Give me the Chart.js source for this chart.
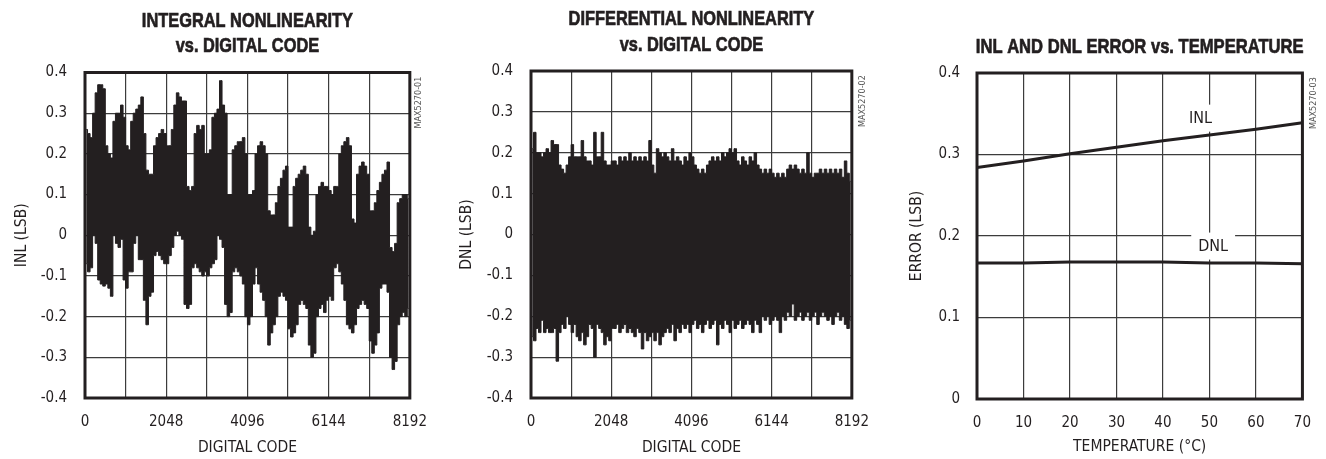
<!DOCTYPE html>
<html>
<head>
<meta charset="utf-8">
<script src="https://cdn.jsdelivr.net/npm/chart.js@4.4.1/dist/chart.umd.min.js"></script>
<style>
  body { margin: 0; background: #fff; width: 1326px; height: 459px; overflow: hidden; position: relative; }
  canvas { position: absolute; top: 0; }
</style>
</head>
<body>
<canvas id="inlChart" width="442" height="459" style="left:0px"></canvas>
<canvas id="dnlChart" width="442" height="459" style="left:442px"></canvas>
<canvas id="tempChart" width="442" height="459" style="left:884px"></canvas>
<script>
// codes are grouped in bins of 64, each bin keeps the top and bottom of the trace
const codeStep = 64;
const codeGrid = [0, 1024, 2048, 3072, 4096, 5120, 6144, 7168, 8192];
const codeTicks = [0, 2048, 4096, 6144, 8192];
const lsbTicks = [-0.4, -0.3, -0.2, -0.1, 0, 0.1, 0.2, 0.3, 0.4];

const inlHigh = [
  0.26, 0.25, 0.24, 0.30, 0.35, 0.37, 0.37, 0.36, 0.22, 0.20, 0.19, 0.28, 0.30, 0.30, 0.32, 0.29,
  0.22, 0.21, 0.28, 0.30, 0.31, 0.32, 0.34, 0.25, 0.16, 0.15, 0.15, 0.22, 0.24, 0.25, 0.26, 0.25,
  0.22, 0.22, 0.26, 0.32, 0.35, 0.34, 0.33, 0.33, 0.12, 0.11, 0.12, 0.25, 0.27, 0.26, 0.27, 0.20,
  0.20, 0.21, 0.29, 0.30, 0.31, 0.38, 0.32, 0.30, 0.10, 0.10, 0.21, 0.22, 0.23, 0.23, 0.24, 0.20,
  0.10, 0.10, 0.11, 0.20, 0.22, 0.23, 0.22, 0.20, 0.06, 0.05, 0.05, 0.08, 0.12, 0.14, 0.16, 0.17,
  0.02, 0.02, 0.12, 0.14, 0.15, 0.16, 0.17, 0.15, 0.02, 0.00, 0.01, 0.10, 0.12, 0.13, 0.12, 0.12,
  0.11, 0.10, 0.12, 0.12, 0.20, 0.22, 0.23, 0.24, 0.22, 0.04, 0.03, 0.15, 0.17, 0.18, 0.17, 0.15,
  0.06, 0.06, 0.08, 0.11, 0.13, 0.15, 0.16, 0.18, -0.03, -0.04, -0.02, 0.08, 0.09, 0.10, 0.10, 0.09
];
const inlLow = [
  -0.07, -0.09, -0.08, 0.00, -0.02, -0.11, -0.12, -0.125, -0.12, -0.13, -0.15, 0.00, -0.02, -0.03, -0.01, -0.11,
  -0.13, -0.09, -0.09, -0.02, 0.00, -0.06, -0.06, -0.16, -0.22, -0.15, -0.14, -0.05, -0.04, -0.05, -0.06, -0.07,
  -0.07, -0.05, -0.03, 0.00, 0.01, 0.00, -0.01, -0.17, -0.18, -0.17, -0.08, -0.07, -0.08, -0.09, -0.10, -0.09,
  -0.10, -0.08, -0.07, -0.06, 0.00, -0.01, -0.03, -0.17, -0.20, -0.19, -0.09, -0.08, -0.09, -0.10, -0.12, -0.20,
  -0.22, -0.20, -0.12, -0.08, -0.12, -0.14, -0.16, -0.20, -0.27, -0.24, -0.22, -0.20, -0.15, -0.14, -0.15, -0.16,
  -0.23, -0.25, -0.24, -0.22, -0.17, -0.16, -0.17, -0.18, -0.27, -0.30, -0.29, -0.20, -0.18, -0.17, -0.19, -0.16,
  -0.15, -0.16, -0.08, -0.07, -0.09, -0.12, -0.16, -0.22, -0.23, -0.24, -0.22, -0.18, -0.17, -0.16, -0.17, -0.18,
  -0.26, -0.29, -0.27, -0.24, -0.13, -0.12, -0.12, -0.14, -0.30, -0.33, -0.31, -0.22, -0.20, -0.19, -0.20, -0.18
];

const dnlHigh = [
  0.21, 0.25, 0.20, 0.20, 0.19, 0.20, 0.21, 0.20, 0.23, 0.22, 0.22, 0.17, 0.16, 0.15, 0.17, 0.19,
  0.22, 0.19, 0.19, 0.19, 0.23, 0.19, 0.18, 0.18, 0.17, 0.25, 0.19, 0.19, 0.25, 0.18, 0.17, 0.17,
  0.18, 0.18, 0.17, 0.19, 0.18, 0.19, 0.18, 0.20, 0.18, 0.19, 0.18, 0.19, 0.18, 0.19, 0.18, 0.23,
  0.17, 0.15, 0.21, 0.20, 0.19, 0.20, 0.19, 0.18, 0.21, 0.18, 0.19, 0.18, 0.17, 0.19, 0.18, 0.20,
  0.19, 0.17, 0.16, 0.15, 0.16, 0.15, 0.17, 0.18, 0.19, 0.18, 0.19, 0.18, 0.20, 0.19, 0.20, 0.21,
  0.20, 0.21, 0.18, 0.17, 0.19, 0.18, 0.17, 0.19, 0.18, 0.20, 0.17, 0.16, 0.15, 0.16, 0.15, 0.16,
  0.15, 0.14, 0.15, 0.14, 0.15, 0.14, 0.16, 0.17, 0.16, 0.17, 0.16, 0.15, 0.16, 0.15, 0.20, 0.15,
  0.14, 0.15, 0.15, 0.16, 0.15, 0.16, 0.15, 0.16, 0.15, 0.16, 0.15, 0.16, 0.14, 0.18, 0.15, 0.13
];
const dnlLow = [
  -0.25, -0.26, -0.23, -0.24, -0.21, -0.24, -0.23, -0.24, -0.24, -0.23, -0.31, -0.24, -0.22, -0.23, -0.20, -0.22,
  -0.24, -0.22, -0.25, -0.26, -0.24, -0.27, -0.25, -0.22, -0.23, -0.30, -0.22, -0.23, -0.24, -0.27, -0.25, -0.26,
  -0.23, -0.23, -0.22, -0.24, -0.23, -0.22, -0.24, -0.23, -0.24, -0.25, -0.23, -0.24, -0.28, -0.24, -0.26, -0.25,
  -0.24, -0.26, -0.24, -0.27, -0.25, -0.24, -0.23, -0.24, -0.22, -0.26, -0.23, -0.24, -0.22, -0.23, -0.22, -0.24,
  -0.22, -0.21, -0.23, -0.22, -0.24, -0.22, -0.21, -0.23, -0.22, -0.21, -0.27, -0.22, -0.23, -0.21, -0.22, -0.24,
  -0.21, -0.23, -0.22, -0.21, -0.23, -0.22, -0.21, -0.22, -0.24, -0.21, -0.22, -0.24, -0.20, -0.21, -0.20, -0.22,
  -0.21, -0.20, -0.21, -0.24, -0.20, -0.21, -0.19, -0.20, -0.17, -0.21, -0.20, -0.19, -0.21, -0.20, -0.19, -0.21,
  -0.20, -0.19, -0.22, -0.20, -0.19, -0.20, -0.21, -0.20, -0.22, -0.20, -0.19, -0.21, -0.20, -0.22, -0.23, -0.21
];

const temps = [0, 10, 20, 30, 40, 50, 60, 70];
const inlVsTemp = [0.284, 0.292, 0.301, 0.309, 0.317, 0.324, 0.331, 0.339];
const dnlVsTemp = [0.167, 0.167, 0.168, 0.168, 0.168, 0.167, 0.167, 0.166];
const errTicks = [0, 0.1, 0.2, 0.3, 0.4];
const curveNames = ['INL', 'DNL'];
const curveLabelAt = [[48.1, 0.344], [50.8, 0.187]];

const ink = '#231f20';
const gridInk = '#3c3c3c';
const cond = "'DejaVu Sans Condensed', 'Liberation Sans Narrow', sans-serif";
const sans = "'Liberation Sans', Arial, sans-serif";

// heavy box around the plot area
const frame = {
  id: 'frame',
  afterDatasetsDraw(chart) {
    const a = chart.chartArea, c = chart.ctx;
    c.save();
    c.strokeStyle = ink;
    c.lineWidth = 3;
    c.strokeRect(a.left, a.top, a.right - a.left, a.bottom - a.top);
    c.restore();
  }
};

// bold headline, squeezed sideways to look like a condensed face
const headline = {
  id: 'headline',
  afterDraw(chart, args, o) {
    const a = chart.chartArea, c = chart.ctx;
    const cx = (a.left + a.right) / 2;
    c.save();
    c.font = 'bold ' + o.size + 'px ' + sans;
    c.fillStyle = ink;
    c.strokeStyle = ink;
    c.lineWidth = 0.7;
    c.textAlign = 'center';
    c.textBaseline = 'middle';
    o.lines.forEach((t, i) => {
      c.save();
      c.translate(cx, o.y[i]);
      c.scale(o.sx, 1);
      c.fillText(t, 0, 0);
      c.strokeText(t, 0, 0);
      c.restore();
    });
    c.restore();
  }
};

// small figure number written upward beside the frame
const figTag = {
  id: 'figTag',
  afterDraw(chart, args, opts) {
    const a = chart.chartArea, c = chart.ctx;
    c.save();
    c.translate(a.right + opts.dx, a.top + 56);
    c.rotate(-Math.PI / 2);
    c.font = '9px ' + cond;
    c.fillStyle = '#555';
    c.textAlign = 'left';
    c.textBaseline = 'middle';
    c.fillText(opts.text, 0, 0);
    c.restore();
  }
};

const fmt = v => String(Number(v.toFixed(1)));

function codeChart(id, titleLines, yTitle, high, low, tag, g) {
  const mid = i => codeStep * i + codeStep / 2;
  // top edge filled down to the bottom edge, so the trace is one solid band
  const band = {
    borderColor: ink,
    borderWidth: 1,
    pointRadius: 0,
    stepped: 'middle'
  };
  return new Chart(document.getElementById(id), {
    type: 'line',
    data: {
      datasets: [
        Object.assign({ data: high.map((v, i) => ({ x: mid(i), y: v })), fill: '+1', backgroundColor: ink }, band),
        Object.assign({ data: low.map((v, i) => ({ x: mid(i), y: v })), fill: false }, band)
      ]
    },
    options: {
      responsive: false,
      animation: false,
      layout: { padding: { left: 0, right: g.right, top: g.top, bottom: 0 } },
      plugins: {
        legend: { display: false },
        tooltip: { enabled: false },
        title: { display: false },
        headline: { lines: titleLines, y: g.titleY, size: 21, sx: 0.78 },
        figTag: { text: tag, dx: g.tagDx }
      },
      scales: {
        x: {
          type: 'linear',
          min: 0,
          max: 8192,
          afterBuildTicks: s => { s.ticks = codeGrid.map(v => ({ value: v })); },
          afterFit: s => { s.height = 61; },
          grid: { color: gridInk, lineWidth: 1.2, drawTicks: false },
          border: { display: false },
          ticks: {
            autoSkip: false,
            maxRotation: 0,
            padding: 15,
            color: ink,
            font: { family: cond, size: 15 },
            callback: v => codeTicks.includes(v) ? String(v) : ''
          },
          title: {
            display: true,
            text: 'DIGITAL CODE',
            color: ink,
            font: { family: cond, size: 15.5, lineHeight: 1.2 },
            padding: { top: 0, bottom: 1.7 }
          }
        },
        y: {
          min: -0.4,
          max: 0.4,
          afterBuildTicks: s => { s.ticks = lsbTicks.map(v => ({ value: v })); },
          afterFit: s => { s.width = g.left; },
          grid: { color: gridInk, lineWidth: 1.2, drawTicks: false },
          border: { display: false },
          ticks: {
            padding: 18,
            color: ink,
            font: { family: cond, size: 15 },
            callback: fmt
          },
          title: {
            display: true,
            text: yTitle,
            color: ink,
            font: { family: cond, size: 15.5, lineHeight: 1.2 },
            padding: { top: g.yTitle - 9.3, bottom: 0 }
          }
        }
      }
    },
    plugins: [frame, headline, figTag]
  });
}

codeChart('inlChart', ['INTEGRAL NONLINEARITY', 'vs. DIGITAL CODE'], 'INL (LSB)', inlHigh, inlLow, 'MAX5270-01',
  { left: 85, right: 30, top: 72.5, titleY: [21, 46], yTitle: 22, tagDx: 9 });
codeChart('dnlChart', ['DIFFERENTIAL NONLINEARITY', 'vs. DIGITAL CODE'], 'DNL (LSB)', dnlHigh, dnlLow, 'MAX5270-02',
  { left: 89, right: 28, top: 71, titleY: [19, 45], yTitle: 25, tagDx: 11 });

// INL / DNL names sit on white patches that interrupt the grid
const curveLabels = {
  id: 'curveLabels',
  beforeDatasetsDraw(chart) {
    const xs = chart.scales.x, ys = chart.scales.y, c = chart.ctx;
    c.save();
    c.font = '16px ' + cond;
    c.textAlign = 'center';
    c.textBaseline = 'middle';
    curveNames.forEach((name, i) => {
      const px = xs.getPixelForValue(curveLabelAt[i][0]);
      const py = ys.getPixelForValue(curveLabelAt[i][1]);
      const w = c.measureText(name).width;
      c.fillStyle = '#fff';
      c.fillRect(px - w / 2 - 7, py - 14, w + 14, 27);
      c.fillStyle = ink;
      c.fillText(name, px, py);
    });
    c.restore();
  }
};

new Chart(document.getElementById('tempChart'), {
  type: 'line',
  data: {
    labels: temps,
    datasets: [
      { label: 'INL', data: temps.map((t, i) => ({ x: t, y: inlVsTemp[i] })), borderColor: ink, borderWidth: 3, pointRadius: 0 },
      { label: 'DNL', data: temps.map((t, i) => ({ x: t, y: dnlVsTemp[i] })), borderColor: ink, borderWidth: 3, pointRadius: 0 }
    ]
  },
  options: {
    responsive: false,
    animation: false,
    layout: { padding: { left: 0, right: 23, top: 73, bottom: 0 } },
    plugins: {
      legend: { display: false },
      tooltip: { enabled: false },
      title: { display: false },
      headline: { lines: ['INL AND DNL ERROR vs. TEMPERATURE'], y: [47], size: 21, sx: 0.79 },
      figTag: { text: 'MAX5270-03', dx: 11 }
    },
    scales: {
      x: {
        type: 'linear',
        min: 0,
        max: 70,
        afterBuildTicks: s => { s.ticks = temps.map(v => ({ value: v })); },
        afterFit: s => { s.height = 60; },
        grid: { color: gridInk, lineWidth: 1.2, drawTicks: false },
        border: { display: false },
        ticks: { padding: 15, color: ink, font: { family: cond, size: 15 } },
        title: {
          display: true,
          text: 'TEMPERATURE (°C)',
          color: ink,
          font: { family: cond, size: 15.5, lineHeight: 1.2 },
          padding: { top: 0, bottom: 2.7 }
        }
      },
      y: {
        min: 0,
        max: 0.4,
        afterBuildTicks: s => { s.ticks = errTicks.map(v => ({ value: v })); },
        afterFit: s => { s.width = 93; },
        grid: { color: gridInk, lineWidth: 1.2, drawTicks: false },
        border: { display: false },
        ticks: { padding: 17, color: ink, font: { family: cond, size: 15 }, callback: fmt },
        title: {
          display: true,
          text: 'ERROR (LSB)',
          color: ink,
          font: { family: cond, size: 15.5, lineHeight: 1.2 },
          padding: { top: 33 - 9.3, bottom: 0 }
        }
      }
    }
  },
  plugins: [curveLabels, frame, headline, figTag]
});
</script>
</body>
</html>
